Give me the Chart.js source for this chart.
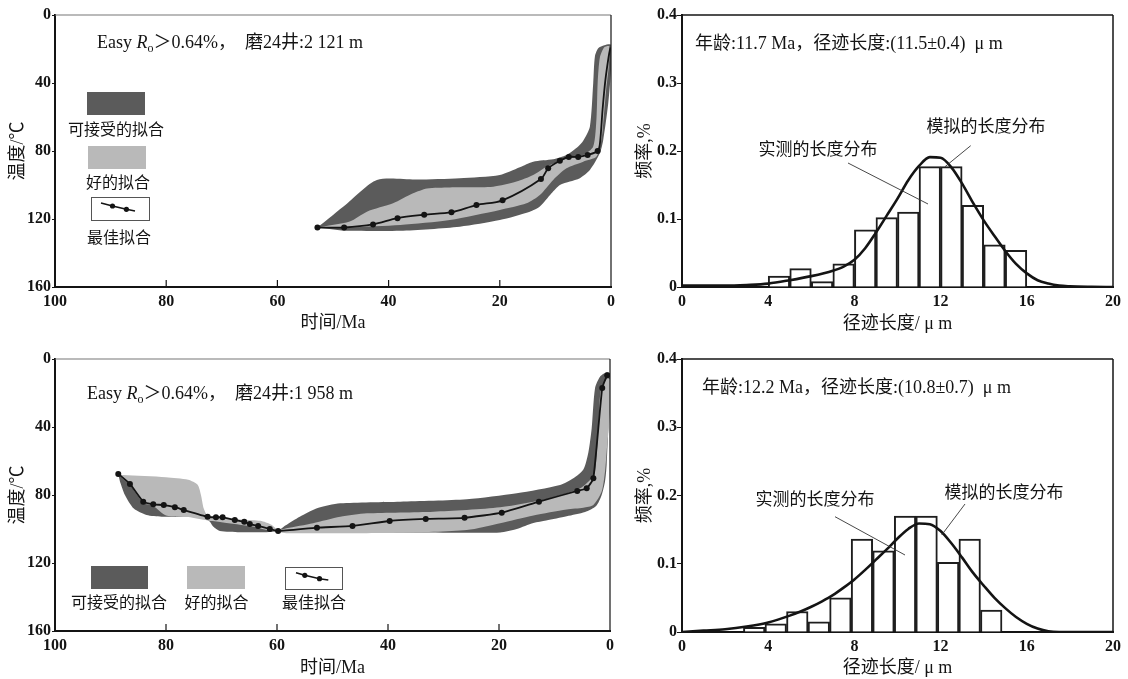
<!DOCTYPE html>
<html><head><meta charset="utf-8">
<script src="https://cdn.jsdelivr.net/npm/chart.js@4.4.0/dist/chart.umd.min.js"></script>
<style>
html,body{margin:0;padding:0;background:#fff;}
#wrap{position:relative;width:1128px;height:679px;overflow:hidden;background:#fff;}
canvas{position:absolute;display:block;}
</style></head><body><div id="wrap">
<canvas id="cA" width="620" height="340" style="left:0;top:0"></canvas>
<canvas id="cB" width="508" height="340" style="left:620px;top:0"></canvas>
<canvas id="cC" width="620" height="339" style="left:0;top:340px"></canvas>
<canvas id="cD" width="508" height="339" style="left:620px;top:340px"></canvas>
</div>
<script>
// ---------------- DATA ----------------
const timeTicks = [100, 80, 60, 40, 20, 0];
const tempTicks = [0, 40, 80, 120, 160];
const lenTicks = [0, 4, 8, 12, 16, 20];
const freqTicks = [0, 0.1, 0.2, 0.3, 0.4];

// Panel A: 磨24井 2 121 m
const bestA_Ma = [52.8, 48.0, 42.8, 38.4, 33.6, 28.7, 24.2, 19.5, 12.6, 11.3, 9.2, 7.6, 5.9, 4.2, 2.4, 2.0, 1.5, 1.0, 0.4, 0.1];
const bestA_T  = [125, 125, 123.2, 119.5, 117.5, 116, 111.8, 109, 96.5, 90.2, 85.8, 83.5, 83.5, 82.3, 80, 76, 55, 38, 24, 19];
const bestA_nodes = 15;
const accA_Ma = [52.8, 47.5, 42.1, 35, 27.2, 20.0, 16.4, 14.0, 10.4, 8.0, 5.9, 5.0, 3.8, 3.2, 2.9, 2.3, 1.2, 0,
                 0, 0.5, 1.4, 2.0, 3.8, 5.6, 7.4, 9.2, 10.7, 12.8, 14.6, 20.0, 27.2, 37.9, 48.1];
const accA_T  = [125, 111, 97.1, 96.8, 96, 94.1, 89.6, 86.3, 84.9, 82.4, 77.4, 74, 65.7, 40.2, 24.5, 19.6, 17.8, 17.6,
                 32, 52, 73.5, 81.2, 91.2, 96, 98, 100, 104.9, 112.7, 115.7, 120.6, 124.5, 126.9, 126.9];
const goodA_Ma = [52.8, 47, 43.9, 39.2, 35.6, 33.1, 29.0, 21.2, 17.0, 14.0, 11.6, 8.6, 5.0, 3.2, 2.6, 2.4, 2.0, 1.2, 0.3,
                  0.4, 0.9, 1.3, 1.7, 2.6, 5.0, 8.0, 10.4, 12.8, 15.2, 20, 29, 37.9, 47];
const goodA_T  = [125, 121.5, 115.7, 110.8, 104.9, 102, 101.4, 101, 98, 94.1, 89.2, 85.3, 82.4, 77.4, 60, 40, 25, 19, 18.5,
                  30, 45, 60, 73, 83.3, 86.3, 90.2, 97, 105.9, 110.8, 114.7, 120.6, 123.5, 124.9];

// Panel C: 磨24井 1 958 m
const bestC_Ma = [88.6, 86.5, 84.1, 82.3, 80.4, 78.4, 76.8, 72.5, 71.0, 69.8, 67.6, 65.9, 64.9, 63.4, 61.3, 59.8, 52.8, 46.4, 39.7, 33.2, 26.2, 19.5, 12.8, 5.9, 4.2, 3.0, 1.4, 0.5];
const bestC_T  = [67.6, 73.5, 83.9, 85.5, 85.9, 87.2, 88.8, 92.8, 93.1, 93.1, 94.7, 95.7, 97.1, 98.2, 100, 101.2, 99.2, 98.2, 95.3, 94.1, 93.4, 90.4, 83.9, 77.6, 76.1, 70.2, 17, 9.5];
const accC_Ma = [88.6, 86.5, 84.1, 80.4, 76.8, 72.5, 67.6, 63.4, 61.3, 59.8, 58.5, 55.9, 52.8, 48.6, 37.8, 25.8, 16.8, 9.0, 6.6, 4.8, 3.9, 3.3, 2.7, 1.8, 0.6, 0,
                 0, 0.3, 0.6, 0.9, 1.5, 2.5, 4.5, 7.8, 11.5, 13.8, 16.8, 19.8, 25.2, 35, 50, 58, 59.8, 61.9, 66.7, 70.3, 71.5, 72.1, 73.5, 80.8, 83.5, 85.8, 87.4, 88.3];
const accC_T  = [67.6, 73.5, 83.9, 85.9, 88.8, 92.8, 94.7, 98.2, 100, 101, 98, 92.8, 87.8, 84.9, 83.9, 82.5, 79, 74.1, 70.2, 65, 55, 40.8, 17.2, 10.4, 7.8, 8.4,
                 20, 40, 62, 72, 80, 86.5, 90, 92.5, 95, 96.5, 100, 102, 102.2, 102, 102, 102, 101.5, 101.9, 101.9, 101.2, 98.6, 95.7, 93.3, 92.8, 91.8, 88, 80, 72];
const goodC_Ma = [88.6, 87.7, 80, 76, 74.3, 73.7, 73.2, 72.5, 71.5, 66, 63, 61, 59.8, 58.3, 53.5, 48.6, 43.8, 31.8, 19.8, 10.8, 5.4, 3.6, 2.7, 2.1, 1.7, 0.6, 0,
                  0, 0.6, 0.9, 1.5, 3.0, 4.8, 7.8, 13.8, 19.8, 25.8, 37.8, 49.8, 58.3, 59.8, 61.9, 64.4, 70, 72.5, 76, 80, 82.3, 84.1, 86.5];
const goodC_T  = [68.2, 68.2, 69.5, 71, 74, 80, 88, 92.5, 93.5, 94.5, 95.2, 97.5, 100.5, 99.6, 96.6, 92.8, 90.8, 89.8, 87.2, 81.9, 76.1, 71.2, 66.3, 40.8, 19.2, 11.4, 12,
                  31, 54.5, 66.3, 78, 85.9, 87.5, 88.5, 92, 96.6, 100.6, 102.2, 102.5, 102.5, 101.8, 100.6, 98.6, 96, 95, 93, 92, 86.5, 84.5, 74];

// Panel B: 径迹长度分布 (11.7 Ma)
const histB_len  = [4.5, 5.5, 6.5, 7.5, 8.5, 9.5, 10.5, 11.5, 12.5, 13.5, 14.5, 15.5];
const histB_freq = [0.016, 0.027, 0.008, 0.034, 0.084, 0.102, 0.110, 0.177, 0.177, 0.120, 0.062, 0.054];
const modelB_len  = [0, 1, 2, 3, 4, 5, 6, 7, 7.5, 8, 8.5, 9, 9.5, 10, 10.5, 11, 11.5, 12, 12.5, 13, 13.5, 14, 14.5, 15, 15.5, 16, 16.5, 17, 17.5, 18, 19, 20];
const modelB_freq = [0.002, 0.002, 0.002, 0.003, 0.005, 0.010, 0.016, 0.024, 0.030, 0.040, 0.057, 0.080, 0.105, 0.130, 0.157, 0.178, 0.191, 0.190, 0.176, 0.152, 0.124, 0.098, 0.075, 0.053, 0.034, 0.020, 0.010, 0.005, 0.002, 0.001, 0.0003, 0];

// Panel D: 径迹长度分布 (12.2 Ma)
const histD_len  = [3.35, 4.35, 5.35, 6.35, 7.35, 8.35, 9.35, 10.35, 11.35, 12.35, 13.35, 14.35];
const histD_freq = [0.007, 0.012, 0.030, 0.015, 0.050, 0.136, 0.119, 0.170, 0.170, 0.102, 0.136, 0.032];
const modelD_len  = [0, 1, 2, 3, 4, 5, 5.5, 6, 6.5, 7, 7.5, 8, 8.5, 9, 9.5, 10, 10.5, 11, 11.5, 12, 12.5, 13, 13.5, 14, 14.5, 15, 15.5, 16, 16.5, 17, 17.5, 18, 19, 20];
const modelD_freq = [0, 0.002, 0.004, 0.008, 0.014, 0.024, 0.030, 0.037, 0.045, 0.054, 0.065, 0.077, 0.091, 0.106, 0.121, 0.137, 0.151, 0.159, 0.158, 0.148, 0.130, 0.109, 0.087, 0.068, 0.050, 0.035, 0.022, 0.012, 0.005, 0.001, 0, 0, 0, 0];

// ---------------- STYLE / HELPERS ----------------
const SERIF = "'Liberation Serif','Times New Roman','Noto Sans CJK SC',serif";
const DARK = '#5b5b5b', LIGHT = '#b9b9b9', INK = '#141414';
Chart.defaults.font.family = SERIF;
Chart.defaults.color = INK;
const pts = (xs, ys) => xs.map((x, i) => ({x, y: ys[i]}));
const fixTicks = arr => s => { s.ticks = arr.map(v => ({value: v})); };
const TICKFONT = { size: 16, weight: 'bold' };
const TITLEFONT = { size: 18 };

function drawRuns(ctx, x, y, runs, base) {
  let cx = x;
  ctx.textBaseline = 'alphabetic'; ctx.textAlign = 'left'; ctx.fillStyle = INK;
  for (const r of runs) {
    ctx.font = (r.italic ? 'italic ' : '') + (r.size || base) + 'px ' + SERIF;
    ctx.fillText(r.t, cx, y + (r.dy || 0));
    cx += ctx.measureText(r.t).width;
  }
}

const decoPlugin = {
  id: 'deco',
  afterDraw(chart, args, o) {
    const {ctx, chartArea: a} = chart;
    ctx.save();
    ctx.lineWidth = o.frameWidth; ctx.strokeStyle = o.frameColor;
    ctx.beginPath(); ctx.moveTo(a.left, a.top); ctx.lineTo(a.right, a.top); ctx.stroke();
    ctx.strokeStyle = INK;
    ctx.beginPath(); ctx.moveTo(a.right, a.top); ctx.lineTo(a.right, a.bottom); ctx.stroke();
    if (o.innerTicks) {
      ctx.lineWidth = 1.2; ctx.strokeStyle = INK;
      for (const v of o.innerTicks) {
        const px = chart.scales.x.getPixelForValue(v);
        ctx.beginPath(); ctx.moveTo(px, a.bottom); ctx.lineTo(px, a.bottom - 7); ctx.stroke();
      }
    }
    if (o.header) drawRuns(ctx, o.header.x, o.header.y, o.header.runs, o.header.size);
    if (o.legend) {
      for (const it of o.legend) {
        const [bx, by, bw, bh] = it.box;
        if (it.kind === 'line') {
          ctx.fillStyle = '#fff'; ctx.fillRect(bx, by, bw, bh);
          ctx.lineWidth = 1; ctx.strokeStyle = '#555'; ctx.strokeRect(bx + 0.5, by + 0.5, bw, bh);
          ctx.lineWidth = 1.6; ctx.strokeStyle = INK; ctx.beginPath();
          it.line.forEach((p, i) => i ? ctx.lineTo(p[0], p[1]) : ctx.moveTo(p[0], p[1]));
          ctx.stroke();
          ctx.fillStyle = INK;
          for (const p of it.dots) { ctx.beginPath(); ctx.arc(p[0], p[1], 2.6, 0, Math.PI * 2); ctx.fill(); }
        } else {
          ctx.fillStyle = it.color; ctx.fillRect(bx, by, bw, bh);
        }
        ctx.fillStyle = INK; ctx.font = o.legendFont + 'px ' + SERIF;
        ctx.textAlign = 'center'; ctx.textBaseline = 'middle';
        ctx.fillText(it.label, it.lx, it.ly);
      }
    }
    if (o.notes) {
      for (const n of o.notes) {
        ctx.fillStyle = INK; ctx.font = n.size + 'px ' + SERIF;
        ctx.textAlign = 'center'; ctx.textBaseline = 'middle';
        ctx.fillText(n.text, n.x, n.y);
        ctx.lineWidth = 0.9; ctx.strokeStyle = '#333';
        ctx.beginPath(); ctx.moveTo(n.line[0], n.line[1]); ctx.lineTo(n.line[2], n.line[3]); ctx.stroke();
      }
    }
    ctx.restore();
  }
};

function thermal(id, L, d) {
  return new Chart(document.getElementById(id), {
    type: 'line',
    data: { datasets: [
      { label: '可接受的拟合', data: pts(d.accMa, d.accT), fill: 'shape', backgroundColor: DARK, borderWidth: 0, pointRadius: 0, tension: 0.25, order: 3 },
      { label: '好的拟合', data: pts(d.goodMa, d.goodT), fill: 'shape', backgroundColor: LIGHT, borderWidth: 0, pointRadius: 0, tension: 0.25, order: 2 },
      { label: '最佳拟合', data: pts(d.bestMa, d.bestT), fill: false, borderColor: INK, borderWidth: 1.8,
        pointRadius: c => (c.dataIndex < d.nodes ? 3 : 0), pointBackgroundColor: INK, pointBorderWidth: 0, tension: d.tension, order: 1 }
    ]},
    options: {
      responsive: false, animation: false, events: [],
      layout: { padding: { top: L.top, right: L.right, left: 0, bottom: 0 } },
      plugins: { legend: { display: false }, tooltip: { enabled: false },
        deco: { frameWidth: 1.2, frameColor: '#777', innerTicks: [80, 60, 40, 20], header: L.header, legend: L.legend, legendFont: 16 } },
      scales: {
        x: { type: 'linear', reverse: true, min: 0, max: 100, afterBuildTicks: fixTicks(timeTicks),
          afterFit: s => { s.height = L.xh; },
          grid: { drawOnChartArea: false, drawTicks: false }, border: { display: true, color: INK, width: 2 },
          ticks: { font: TICKFONT, color: INK, padding: 5, maxRotation: 0, autoSkip: false },
          title: { display: true, text: '时间/Ma', font: TITLEFONT, color: INK, padding: { top: 0, bottom: L.xtp } } },
        y: { type: 'linear', reverse: true, min: 0, max: 160, afterBuildTicks: fixTicks(tempTicks),
          afterFit: s => { s.width = 55; },
          grid: { drawOnChartArea: false, drawTicks: true, tickLength: 3, color: INK }, border: { display: true, color: INK, width: 2 },
          ticks: { font: TICKFONT, color: INK, padding: 1, autoSkip: false },
          title: { display: true, text: '温度/℃', font: TITLEFONT, color: INK, padding: { top: 7, bottom: 0 } } }
      }
    },
    plugins: [decoPlugin]
  });
}

function histo(id, L, d) {
  return new Chart(document.getElementById(id), {
    type: 'bar',
    data: { datasets: [
      { type: 'line', label: '模拟的长度分布', data: pts(d.modelLen, d.modelFreq), borderColor: INK, borderWidth: 2.6, pointRadius: 0, cubicInterpolationMode: 'monotone', fill: false, order: 0 },
      { type: 'bar', label: '实测的长度分布', data: pts(d.len, d.freq), backgroundColor: '#fff', borderColor: '#1e1e1e', borderWidth: 2, barPercentage: 1, categoryPercentage: 1, order: 1 }
    ]},
    options: {
      responsive: false, animation: false, events: [],
      layout: { padding: { top: L.top, right: L.right, left: 0, bottom: 0 } },
      plugins: { legend: { display: false }, tooltip: { enabled: false },
        deco: { frameWidth: 1.5, frameColor: INK, header: L.header, notes: L.notes } },
      scales: {
        x: { type: 'linear', min: 0, max: 20, offset: false, afterBuildTicks: fixTicks(lenTicks),
          afterFit: s => { s.height = L.xh; },
          grid: { drawOnChartArea: false, drawTicks: false, offset: false }, border: { display: true, color: INK, width: 2 },
          ticks: { font: TICKFONT, color: INK, padding: 5, maxRotation: 0, autoSkip: false },
          title: { display: true, text: '径迹长度/ μ m', font: TITLEFONT, color: INK, padding: { top: 0, bottom: L.xtp } } },
        y: { type: 'linear', min: 0, max: 0.4, afterBuildTicks: fixTicks(freqTicks),
          afterFit: s => { s.width = 62; },
          grid: { drawOnChartArea: false, drawTicks: true, tickLength: 5, color: INK }, border: { display: true, color: INK, width: 2 },
          ticks: { font: TICKFONT, color: INK, padding: 0, autoSkip: false, callback: v => (v === 0 ? '0' : v.toFixed(1)) },
          title: { display: true, text: '频率,%', font: TITLEFONT, color: INK, padding: { top: 14, bottom: 0 } } }
      }
    },
    plugins: [decoPlugin]
  });
}

const headerRuns = depth => [
  { t: 'Easy ' }, { t: 'R', italic: true }, { t: 'o', size: 12, dy: 4 }, { t: '＞0.64%，  磨24井:' + depth }
];

thermal('cA', {
  top: 15, right: 9, xh: 53, xtp: 6,
  header: { x: 97, y: 48, size: 18, runs: headerRuns('2 121 m') },
  legend: [
    { color: DARK, box: [87, 92, 58, 23], label: '可接受的拟合', lx: 116, ly: 131 },
    { color: LIGHT, box: [88, 146, 58, 23], label: '好的拟合', lx: 118, ly: 184 },
    { kind: 'line', box: [91, 197, 58, 23], line: [[101, 203], [112.5, 206], [126.4, 209.3], [135, 211]], dots: [[112.5, 206], [126.4, 209.3]], label: '最佳拟合', lx: 119, ly: 239 }
  ]
}, { bestMa: bestA_Ma, bestT: bestA_T, nodes: bestA_nodes, accMa: accA_Ma, accT: accA_T, goodMa: goodA_Ma, goodT: goodA_T, tension: 0.3 });

thermal('cC', {
  top: 19, right: 10, xh: 48, xtp: 0,
  header: { x: 87, y: 59, size: 18, runs: headerRuns('1 958 m') },
  legend: [
    { color: DARK, box: [91, 226, 57, 23], label: '可接受的拟合', lx: 119, ly: 264 },
    { color: LIGHT, box: [187, 226, 58, 23], label: '好的拟合', lx: 216.5, ly: 264 },
    { kind: 'line', box: [285, 227, 57, 22], line: [[296, 232.7], [304.8, 235.3], [319.5, 238.7], [328.3, 240]], dots: [[304.8, 235.3], [319.5, 238.7]], label: '最佳拟合', lx: 314, ly: 264 }
  ]
}, { bestMa: bestC_Ma, bestT: bestC_T, nodes: bestC_Ma.length, accMa: accC_Ma, accT: accC_T, goodMa: goodC_Ma, goodT: goodC_T, tension: 0.15 });

histo('cB', {
  top: 15, right: 15, xh: 53, xtp: 5,
  header: { x: 75, y: 49, size: 18, runs: [{ t: '年龄:11.7 Ma，径迹长度:(11.5±0.4)  μ m' }] },
  notes: [
    { text: '实测的长度分布', size: 17, x: 198, y: 151, line: [228, 163, 308, 204] },
    { text: '模拟的长度分布', size: 17, x: 366, y: 128, line: [350.7, 145.7, 325, 166.7] }
  ]
}, { len: histB_len, freq: histB_freq, modelLen: modelB_len, modelFreq: modelB_freq });

histo('cD', {
  top: 19, right: 15, xh: 47, xtp: 0,
  header: { x: 82, y: 53, size: 18, runs: [{ t: '年龄:12.2 Ma，径迹长度:(10.8±0.7)  μ m' }] },
  notes: [
    { text: '实测的长度分布', size: 17, x: 195, y: 161, line: [215, 176.7, 285, 215] },
    { text: '模拟的长度分布', size: 17, x: 384, y: 154, line: [345, 164, 321.7, 195] }
  ]
}, { len: histD_len, freq: histD_freq, modelLen: modelD_len, modelFreq: modelD_freq });
</script>
</body></html>
